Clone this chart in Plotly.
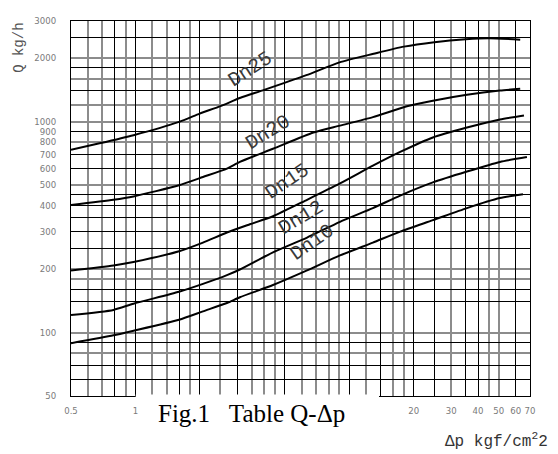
import math
import plotly.graph_objects as go

# ---- data ----
dn25_dp = [0.5, 0.68, 0.98, 1.6, 2.0, 2.5, 3.1, 4.0, 6.3, 9.0, 13, 18, 25, 35, 45, 63]
dn25_q = [736, 789, 862, 997, 1092, 1184, 1297, 1414, 1661, 1910, 2098, 2268, 2381, 2459, 2486, 2446]

dn20_dp = [0.5, 0.79, 0.98, 1.6, 2.07, 2.68, 3.08, 4.4, 6.8, 9.05, 12.9, 18.6, 24.6, 35.5, 50.6, 63]
dn20_q = [402, 426, 442, 499, 546, 599, 644, 744, 888, 957, 1050, 1182, 1256, 1340, 1403, 1430]

dn15_dp = [0.5, 0.79, 0.98, 1.6, 2.07, 2.68, 3.43, 4.4, 6.35, 9.05, 12.9, 17.3, 24.6, 35.5, 50.6, 65.6]
dn15_q = [197, 208, 216, 243, 267, 298, 326, 356, 426, 509, 618, 718, 841, 937, 1024, 1070]

dn12_dp = [0.5, 0.79, 0.98, 1.6, 2.07, 2.68, 3.08, 4.4, 6.35, 9.05, 12.9, 17.3, 24.6, 35.5, 50.6, 67.7]
dn12_q = [121, 128, 137, 156, 170, 187, 199, 240, 282, 335, 389, 446, 515, 580, 644, 679]

dn10_dp = [0.5, 0.79, 0.98, 1.6, 2.07, 2.68, 3.08, 4.4, 6.35, 9.05, 12.9, 17.3, 24.6, 35.5, 50.6, 64.9]
dn10_q = [89, 97, 102, 115, 126, 138, 147, 168, 197, 232, 267, 301, 341, 389, 434, 453]

series_names = ["Dn25", "Dn20", "Dn15", "Dn12", "Dn10"]

x_tick_vals = [0.5, 1, 20, 30, 40, 50, 60, 70]
x_tick_text = ["0.5", "1", "20", "30", "40", "50", "60", "70"]
y_tick_vals = [50, 100, 200, 300, 400, 500, 600, 700, 800, 900, 1000, 2000, 3000]
y_tick_text = ["50", "100", "200", "300", "400", "500", "600", "700", "800", "900", "1000", "2000", "3000"]

x_grid_dark = [0.5, 0.8, 1, 1.6, 2, 3, 5, 10, 14, 20, 25, 35, 40, 60, 70]
x_grid_gray = [0.6, 0.7, 0.9, 1.2, 1.4, 1.8, 2.5, 3.5, 4, 4.5, 6, 7, 8, 9, 12, 16, 18, 30, 45, 50]
y_grid_dark = [3000, 2500, 1800, 1400, 900, 700, 600, 450, 400, 350, 300, 250, 160, 140, 90, 70, 60, 50]
y_grid_gray = [2000, 1600, 1200, 1000, 800, 500, 200, 180, 100, 80]

X_MIN, X_MAX = 0.5, 70
Y_MIN, Y_MAX = 50, 3000

# ---- figure ----
fig = go.Figure()

curves = [(dn25_dp, dn25_q), (dn20_dp, dn20_q), (dn15_dp, dn15_q), (dn12_dp, dn12_q), (dn10_dp, dn10_q)]
for name, (xs, ys) in zip(series_names, curves):
    fig.add_trace(go.Scatter(x=xs, y=ys, mode="lines", name=name,
                             line=dict(color="black", width=2, shape="spline", smoothing=0.6),
                             showlegend=False, hoverinfo="skip"))

# overlay subplot carrying the dark grid lines
fig.add_trace(go.Scatter(x=[None], y=[None], xaxis="x2", yaxis="y2",
                         showlegend=False, hoverinfo="skip"))

xr = [math.log10(X_MIN), math.log10(X_MAX)]
yr = [math.log10(Y_MIN), math.log10(Y_MAX)]
tick_font = dict(family="Liberation Sans Narrow, DejaVu Sans Condensed, Arial Narrow, sans-serif",
                 size=9.5, color="#7a7a7a")

# the page body adds an 8px offset, so the figure is 8px smaller and margins compensate
fig.update_layout(
    width=550, height=446,
    margin=dict(l=63, r=28, t=7, b=58),
    paper_bgcolor="white", plot_bgcolor="white",
    xaxis=dict(type="log", range=xr, tickmode="array", tickvals=x_tick_vals, ticktext=x_tick_text,
               showgrid=False, ticks="", zeroline=False, tickfont=tick_font, ticklabelstandoff=6,
               showline=True, mirror=True, linecolor="black", linewidth=1,
               minor=dict(tickmode="array", tickvals=x_grid_gray, showgrid=True,
                          gridcolor="#8c8c8c", gridwidth=1.6, ticks="")),
    yaxis=dict(type="log", range=yr, tickmode="array", tickvals=y_tick_vals, ticktext=y_tick_text,
               showgrid=False, ticks="", zeroline=False, tickfont=tick_font, ticklabelstandoff=12,
               showline=True, mirror=True, linecolor="black", linewidth=1,
               minor=dict(tickmode="array", tickvals=y_grid_gray, showgrid=True,
                          gridcolor="#8c8c8c", gridwidth=1.6, ticks="")),
    xaxis2=dict(type="log", range=xr, overlaying="x", anchor="y2", tickmode="array",
                tickvals=x_grid_dark, showticklabels=False, ticks="", showgrid=True,
                gridcolor="black", gridwidth=1, zeroline=False, showline=False),
    yaxis2=dict(type="log", range=yr, overlaying="y", anchor="x2", tickmode="array",
                tickvals=y_grid_dark, showticklabels=False, ticks="", showgrid=True,
                gridcolor="black", gridwidth=1, zeroline=False, showline=False),
    showlegend=False,
)

# white strip hiding the bottom frame behind the caption
fig.add_shape(type="rect", xref="paper", yref="paper", x0=0.141, x1=0.671, y0=-0.008, y1=0.004,
              fillcolor="white", line=dict(width=0), layer="above")

mono = "Liberation Mono, Courier New, monospace"
label_pos = {"Dn25": (0.39, 0.872, -33), "Dn20": (0.429, 0.703, -32), "Dn15": (0.471, 0.573, -34),
             "Dn12": (0.502, 0.476, -31), "Dn10": (0.525, 0.41, -35)}
for name in series_names:
    px, py, ang = label_pos[name]
    fig.add_annotation(text=name, xref="paper", yref="paper", x=px, y=py, showarrow=False,
                       xanchor="center", yanchor="middle",
                       textangle=ang, font=dict(family=mono, size=20, color="#3a3a3a"))

fig.add_annotation(text="Q kg/h", xref="paper", yref="paper", x=-0.115, y=0.929, showarrow=False,
                   xanchor="center", yanchor="middle",
                   textangle=-90, font=dict(family=mono, size=14, color="#555555"))
fig.add_annotation(text="Fig.1\u00a0\u00a0\u00a0Table Q-\u0394p", xref="paper", yref="paper",
                   x=0.393, y=-0.047, showarrow=False, xanchor="center", yanchor="middle",
                   font=dict(family="Liberation Serif, Times New Roman, serif", size=25, color="black"))
fig.add_annotation(text="\u0394p kgf/cm<sup>2</sup>2", xref="paper", yref="paper", x=0.928, y=-0.118,
                   showarrow=False, xanchor="center", yanchor="middle",
                   font=dict(family=mono, size=16, color="#333333"))

fig.write_html("out.html")
